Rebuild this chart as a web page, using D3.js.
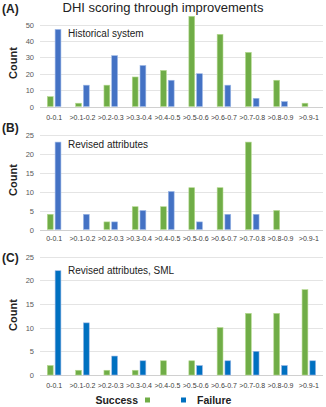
<!DOCTYPE html>
<html><head><meta charset="utf-8">
<script src="https://cdn.jsdelivr.net/npm/d3@7"></script>
<style>body{margin:0;background:#fff}svg{display:block}</style>
</head><body>
<svg id="c" width="326" height="407"></svg>
<script>
const categories = ["0-0.1",">0.1-0.2",">0.2-0.3",">0.3-0.4",">0.4-0.5",">0.5-0.6",">0.6-0.7",">0.7-0.8",">0.8-0.9",">0.9-1"];
const successA = [6,2,13,18,22,55,44,33,16,2];
const failureA = [47,13,31,25,16,20,13,5,3,0];
const successB = [4,0,2,6,6,11,11,23,5,0];
const failureB = [23,4,2,5,10,2,4,4,0,0];
const successC = [2,1,1,1,3,3,10,13,13,18];
const failureC = [22,11,4,3,0,2,3,5,2,3];
const ticksA = [0,10,20,30,40,50];
const ticksB = [0,5,10,15,20,25];
const ticksC = [0,5,10,15,20,25];
const panelLabels = ["(A)","(B)","(C)"];
const subtitles = ["Historical system","Revised attributes","Revised attributes, SML"];
const title = "DHI scoring through improvements";
const seriesNames = ["Success","Failure"];

const svg = d3.select("#c");
const font = "Arial, 'Liberation Sans', sans-serif";
const green = "#70AD47";
const panels = [
  {s:successA,f:failureA,ticks:ticksA,max:55,y0:106.5,yTop:24.5,topVal:50,lab:117,blue:"#4472C4",label:8,labY:63,sub:33},
  {s:successB,f:failureB,ticks:ticksB,max:25,y0:229.5,yTop:134.5,topVal:25,lab:238.5,blue:"#4472C4",label:127,labY:180,sub:144},
  {s:successC,f:failureC,ticks:ticksC,max:25,y0:375,yTop:256.5,topVal:25,lab:385.5,blue:"#0070C0",label:257,labY:315,sub:270}
];
const x = d3.scaleBand().domain(categories).range([40,323]).paddingInner(0).paddingOuter(0);
const xs = d3.scaleBand().domain([0,1]).range([0,x.bandwidth()]).paddingInner(0.25).paddingOuter(0.95);

svg.append("text").attr("x",163).attr("y",12).attr("text-anchor","middle")
  .attr("font-family",font).attr("font-size",13).attr("fill","#222").text(title);

panels.forEach((p,i)=>{
  const y = d3.scaleLinear().domain([0,p.topVal]).range([p.y0,p.yTop]);
  const g = svg.append("g");
  g.selectAll("line.grid").data(p.ticks).join("line")
    .attr("x1",40).attr("x2",323).attr("y1",d=>Math.round(y(d))+0.5).attr("y2",d=>Math.round(y(d))+0.5)
    .attr("stroke",d=>d===0?"#d0d0d0":"#e4e4e4").attr("stroke-width",1);
  g.selectAll("text.yt").data(p.ticks).join("text")
    .attr("x",34).attr("y",d=>y(d)+3).attr("text-anchor","end")
    .attr("font-family",font).attr("font-size",7.5).attr("fill","#595959").text(d=>d);
  const data = categories.map((c,k)=>({c,v:[p.s[k],p.f[k]]}));
  const grp = g.selectAll("g.cat").data(data).join("g").attr("transform",d=>`translate(${x(d.c)},0)`);
  grp.selectAll("rect").data(d=>d.v.map((v,j)=>({v,j}))).join("rect")
    .attr("x",d=>xs(d.j)).attr("width",xs.bandwidth())
    .attr("y",d=>y(d.v)).attr("height",d=>Math.max(0,y(0)-y(d.v)))
    .attr("fill",d=>d.j===0?green:p.blue)
    .attr("stroke",d=>d.v>0?(d.j===0?"#b5d98f":"#9db8e6"):"none").attr("stroke-width",0.6);
  g.selectAll("text.xl").data(categories).join("text")
    .attr("x",d=>x(d)+x.bandwidth()/2).attr("y",p.lab+2.5).attr("text-anchor","middle")
    .attr("font-family",font).attr("font-size",7).attr("fill","#404040").text(d=>d);
  svg.append("text").attr("x",2).attr("y",p.label+5).attr("font-family",font).attr("font-size",12)
    .attr("font-weight","bold").attr("fill","#222").text(panelLabels[i]);
  svg.append("text").attr("x",68).attr("y",p.sub+4).attr("font-family",font).attr("font-size",10)
    .attr("fill","#222").text(subtitles[i]);
  svg.append("text").attr("transform",`translate(17,${p.labY}) rotate(-90)`).attr("text-anchor","middle")
    .attr("font-family",font).attr("font-size",11).attr("font-weight","bold").attr("fill","#222").text("Count");
});

const leg = svg.append("g");
leg.append("text").attr("x",138).attr("y",404).attr("text-anchor","end").attr("font-family",font)
  .attr("font-size",10.5).attr("font-weight","bold").attr("fill","#222").text(seriesNames[0]);
leg.append("rect").attr("x",145).attr("y",397.5).attr("width",5).attr("height",5).attr("fill",green);
leg.append("rect").attr("x",181).attr("y",397.5).attr("width",5).attr("height",5).attr("fill","#0070C0");
leg.append("text").attr("x",197).attr("y",404).attr("font-family",font)
  .attr("font-size",10.5).attr("font-weight","bold").attr("fill","#222").text(seriesNames[1]);
</script>
</body></html>
